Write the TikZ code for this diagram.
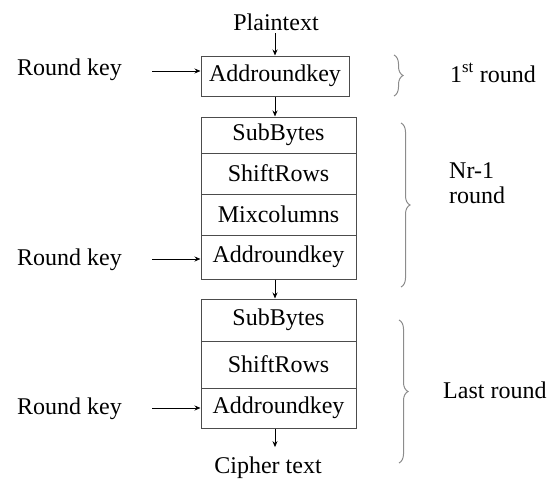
\documentclass[tikz,border=0pt]{standalone}
\usepackage{fontspec}
\setmainfont{Liberation Serif}
\usetikzlibrary{
    arrows.meta,
    positioning,
    calc,
    decorations.pathreplacing,
}

\begin{document}
\begin{tikzpicture}[
    x=1pt, y=-1pt,
    font=\fontsize{24}{25}\selectfont,
    stage/.style={draw=black!70, line width=1pt, minimum width=155pt, inner sep=0pt, text=black},
    label/.style={inner sep=1pt, text=black},
    flow/.style={-{Stealth[length=6pt,width=5pt]}, line width=0.9pt},
    roundbrace/.style={draw=black!45, line width=1pt, decorate, decoration={brace, amplitude=9pt}},
    ]

\useasboundingbox (0,0) rectangle (554,479);

% first round
\node[label, anchor=base] at (276,30) (plain) {Plaintext};
\node[stage, minimum width=148pt, minimum height=40pt] at (275,76) (ark1) {Addroundkey};

% Nr-1 rounds
\node[stage, minimum height=36pt] at (278.5,135) (sb1) {SubBytes};
\node[stage, minimum height=41pt] at (278.5,173.5) (sr1) {ShiftRows};
\node[stage, minimum height=41pt] at (278.5,214.5) (mc1) {Mixcolumns};
\node[stage, minimum height=44pt] at (278.5,257) (ark2) {Addroundkey};

% last round
\node[stage, minimum height=42pt] at (278.5,320) (sb2) {SubBytes};
\node[stage, minimum height=47pt] at (278.5,364.5) (sr2) {ShiftRows};
\node[stage, minimum height=40pt] at (278.5,408) (ark3) {Addroundkey};
\node[label, anchor=base] at (268,473) (cipher) {Cipher text};

\draw[flow, shorten <=2pt] (plain.south -| ark1.north) -- (ark1.north);
\draw[flow] (ark1.south) -- (ark1.south |- sb1.north);
\draw[flow] (ark1.south |- ark2.south) -- (ark1.south |- sb2.north);
\draw[flow, shorten >=8pt] (ark1.south |- ark3.south) -- (ark1.south |- cipher.north);

% round keys
\node[label, anchor=base west] at (16,75) (key1) {Round key};
\node[label, anchor=base west] at (16,265) (key2) {Round key};
\node[label, anchor=base west] at (16,414) (key3) {Round key};

\coordinate (k1) at (152,71);
\coordinate (k2) at (152,259);
\coordinate (k3) at (152,408);
\draw[flow] (k1) -- (k1 -| ark1.west);
\draw[flow] (k2) -- (k2 -| ark2.west);
\draw[flow] (k3) -- (k3 -| ark3.west);

% braces
\coordinate (b1top) at (394,55);
\coordinate (b1bot) at (394,96);
\coordinate (b2top) at (401,123);
\coordinate (b2bot) at (401,287);
\coordinate (b3top) at (399,320);
\coordinate (b3bot) at (399,463);
\draw[roundbrace] (b1top) -- (b1bot);
\draw[roundbrace] (b2top) -- (b2bot);
\draw[roundbrace] (b3top) -- (b3bot);

\node[label, anchor=base west] at (449,82) (first) {1\textsuperscript{st} round};
\node[label, anchor=base west, align=left] at (448,203) (middle) {Nr-1\\round};
\node[label, anchor=base west] at (442,398) (last) {Last round};

\end{tikzpicture}
\end{document}
